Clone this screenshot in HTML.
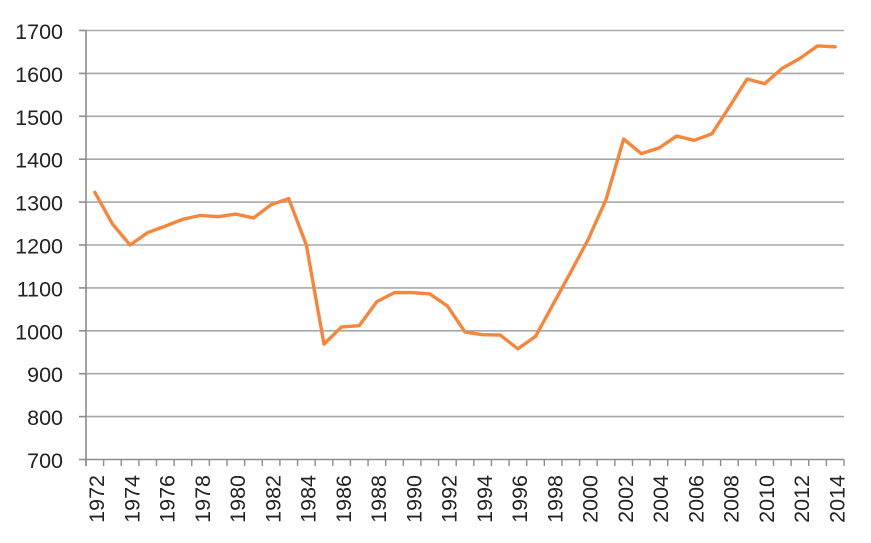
<!DOCTYPE html>
<html><head><meta charset="utf-8"><style>
html,body{margin:0;padding:0;background:#fff;}
svg{display:block;}
</style></head><body>
<svg width="871" height="543" viewBox="0 0 871 543" xmlns="http://www.w3.org/2000/svg">
<rect width="871" height="543" fill="#fff"/>
<g stroke="#a8a8a8" stroke-width="1.6">
<line x1="86" x2="844" y1="416.6" y2="416.6"/>
<line x1="86" x2="844" y1="373.7" y2="373.7"/>
<line x1="86" x2="844" y1="330.8" y2="330.8"/>
<line x1="86" x2="844" y1="287.9" y2="287.9"/>
<line x1="86" x2="844" y1="245.0" y2="245.0"/>
<line x1="86" x2="844" y1="202.1" y2="202.1"/>
<line x1="86" x2="844" y1="159.2" y2="159.2"/>
<line x1="86" x2="844" y1="116.3" y2="116.3"/>
<line x1="86" x2="844" y1="73.4" y2="73.4"/>
<line x1="86" x2="844" y1="30.5" y2="30.5"/>
</g>
<g stroke="#8c8c8c" stroke-width="1.6">
<line x1="86" x2="86" y1="30.5" y2="466"/>
<line x1="79" x2="844" y1="459.5" y2="459.5"/>
<line x1="79" x2="86" y1="416.6" y2="416.6"/>
<line x1="79" x2="86" y1="373.7" y2="373.7"/>
<line x1="79" x2="86" y1="330.8" y2="330.8"/>
<line x1="79" x2="86" y1="287.9" y2="287.9"/>
<line x1="79" x2="86" y1="245.0" y2="245.0"/>
<line x1="79" x2="86" y1="202.1" y2="202.1"/>
<line x1="79" x2="86" y1="159.2" y2="159.2"/>
<line x1="79" x2="86" y1="116.3" y2="116.3"/>
<line x1="79" x2="86" y1="73.4" y2="73.4"/>
<line x1="79" x2="86" y1="30.5" y2="30.5"/>
</g>
<g stroke="#8c8c8c" stroke-width="1.4" transform="translate(86,0) scale(17.628,1)">
<path vector-effect="non-scaling-stroke" d="M0 459.5V466M1 459.5V466M2 459.5V466M3 459.5V466M4 459.5V466M5 459.5V466M6 459.5V466M7 459.5V466M8 459.5V466M9 459.5V466M10 459.5V466M11 459.5V466M12 459.5V466M13 459.5V466M14 459.5V466M15 459.5V466M16 459.5V466M17 459.5V466M18 459.5V466M19 459.5V466M20 459.5V466M21 459.5V466M22 459.5V466M23 459.5V466M24 459.5V466M25 459.5V466M26 459.5V466M27 459.5V466M28 459.5V466M29 459.5V466M30 459.5V466M31 459.5V466M32 459.5V466M33 459.5V466M34 459.5V466M35 459.5V466M36 459.5V466M37 459.5V466M38 459.5V466M39 459.5V466M40 459.5V466M41 459.5V466M42 459.5V466M43 459.5V466"/>
</g>
<g font-family="'Liberation Sans', Arial, sans-serif" font-size="21.5" fill="#222" text-anchor="end">
<text x="63" y="468">700</text>
<text x="63" y="425.1">800</text>
<text x="63" y="382.2">900</text>
<text x="63" y="339.3">1000</text>
<text x="63" y="296.4">1100</text>
<text x="63" y="253.5">1200</text>
<text x="63" y="210.6">1300</text>
<text x="63" y="167.7">1400</text>
<text x="63" y="124.8">1500</text>
<text x="63" y="81.9">1600</text>
<text x="63" y="39">1700</text>
</g>
<g font-family="'Liberation Sans', Arial, sans-serif" font-size="21.5" fill="#222" text-anchor="end">
<text transform="translate(104.0,475) rotate(-90)">1972</text>
<text transform="translate(139.3,475) rotate(-90)">1974</text>
<text transform="translate(174.5,475) rotate(-90)">1976</text>
<text transform="translate(209.8,475) rotate(-90)">1978</text>
<text transform="translate(245.0,475) rotate(-90)">1980</text>
<text transform="translate(280.3,475) rotate(-90)">1982</text>
<text transform="translate(315.5,475) rotate(-90)">1984</text>
<text transform="translate(350.8,475) rotate(-90)">1986</text>
<text transform="translate(386.0,475) rotate(-90)">1988</text>
<text transform="translate(421.3,475) rotate(-90)">1990</text>
<text transform="translate(456.5,475) rotate(-90)">1992</text>
<text transform="translate(491.8,475) rotate(-90)">1994</text>
<text transform="translate(527.0,475) rotate(-90)">1996</text>
<text transform="translate(562.3,475) rotate(-90)">1998</text>
<text transform="translate(597.5,475) rotate(-90)">2000</text>
<text transform="translate(632.8,475) rotate(-90)">2002</text>
<text transform="translate(668.0,475) rotate(-90)">2004</text>
<text transform="translate(703.3,475) rotate(-90)">2006</text>
<text transform="translate(738.5,475) rotate(-90)">2008</text>
<text transform="translate(773.8,475) rotate(-90)">2010</text>
<text transform="translate(809.0,475) rotate(-90)">2012</text>
<text transform="translate(844.3,475) rotate(-90)">2014</text>
</g>
<g transform="translate(94.814,459.5) scale(17.628,-0.429)">
<polyline vector-effect="non-scaling-stroke" fill="none" stroke="#F4873D" stroke-width="3.4" stroke-linejoin="round" stroke-linecap="round"
points="0,623 1,549 2,500 3,529 4,544 5,560 6,569 7,566 8,572 9,563 10,594 11,608 12,500 13,269 14,309 15,312 16,368 17,389 18,389 19,386 20,358 21,297 22,291 23,290 24,258 25,287 26,362 27,437 28,514 29,606 30,747 31,713 32,726 33,754 34,744 35,759 36,822 37,887 38,876 39,912 40,935 41,964 42,962"/>
</g>
</svg>
</body></html>
